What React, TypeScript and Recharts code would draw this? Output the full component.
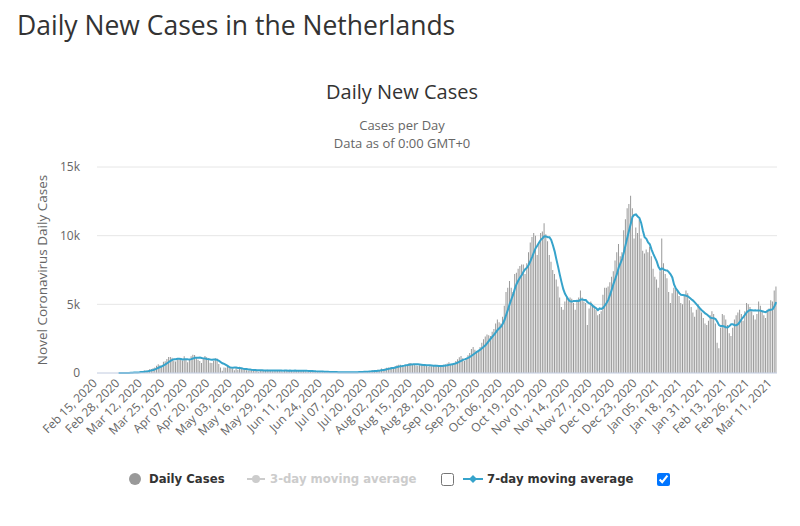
import { ComposedChart, Bar, Line, XAxis, YAxis, CartesianGrid } from "recharts";

const MONTHS = ["Jan", "Feb", "Mar", "Apr", "May", "Jun", "Jul", "Aug", "Sep", "Oct", "Nov", "Dec"];
const START = Date.UTC(2020, 1, 15);

// daily new cases, one array per month (Feb 15, 2020 .. Mar 13, 2021)
const FEB_2020 = [null, null, null, null, null, null, null, null, null, null, null, null, 1, 1, 5];
const MAR_2020 = [8, 6, 14, 20, 44, 46, 60, 77, 56, 61, 121, 111, 190, 155, 176, 278, 292, 346, 409, 534, 637, 573, 545, 811, 852, 1019, 1172, 1159, 1104, 884, 845];
const APR_2020 = [1019, 1083, 1026, 904, 1224, 952, 777, 969, 1213, 1335, 1316, 1174, 964, 868, 734, 1061, 1235, 1140, 1066, 750, 729, 887, 1066, 1057, 655, 400, 171, 400, 386, 514];
const MAY_2020 = [475, 445, 335, 199, 387, 232, 455, 319, 246, 221, 196, 162, 199, 246, 221, 236, 193, 99, 188, 189, 183, 199, 235, 190, 141, 127, 184, 214, 176, 221, 163];
const JUN_2020 = [63, 189, 195, 193, 187, 184, 108, 155, 184, 162, 196, 164, 165, 129, 105, 155, 119, 135, 106, 87, 116, 87, 96, 79, 81, 71, 84, 64, 58, 50];
const JUL_2020 = [77, 50, 59, 71, 56, 32, 59, 52, 65, 80, 46, 70, 62, 65, 64, 93, 109, 132, 117, 100, 151, 138, 193, 182, 182, 229, 177, 320, 261, 335, 379];
const AUG_2020 = [395, 404, 418, 393, 499, 559, 596, 602, 539, 576, 584, 624, 728, 731, 653, 617, 538, 536, 572, 612, 606, 584, 546, 451, 547, 486, 517, 597, 568, 434, 444];
const SEP_2020 = [560, 600, 620, 700, 780, 640, 610, 720, 880, 1000, 1150, 1230, 1080, 880, 1100, 1300, 1450, 1750, 1900, 1700, 1550, 1650, 1900, 2200, 2450, 2650, 2800, 2750, 2700, 3000];
const OCT_2020 = [3200, 3600, 3900, 3700, 3600, 4100, 4900, 5900, 6200, 6700, 6200, 5900, 7200, 7300, 7600, 7800, 7900, 7900, 7200, 8000, 8800, 9500, 9900, 10200, 10000, 8600, 9500, 10200, 10300, 10900, 10100];
const NOV_2020 = [9600, 8600, 8100, 7500, 7200, 6800, 6300, 5500, 4800, 4600, 5200, 5600, 5300, 5500, 5400, 5100, 4600, 5300, 5500, 6000, 5500, 5200, 5100, 3500, 4700, 5200, 5000, 4900, 4600, 4200];
const DEC_2020 = [4300, 4500, 5700, 6200, 6200, 6300, 6600, 7000, 7400, 8200, 8800, 9400, 8500, 8800, 10400, 11200, 12000, 12300, 12900, 12000, 9800, 10600, 10200, 11200, 9800, 8900, 8700, 9000, 8800, 9200, 8500];
const JAN_2021 = [7600, 7000, 6800, 6200, 7400, 9800, 8000, 7200, 6900, 5900, 5100, 5800, 6200, 6100, 6000, 5600, 5100, 5000, 5600, 6000, 5800, 5300, 4800, 4400, 4100, 4600, 5000, 4700, 4400, 4000, 3600];
const FEB_2021 = [3500, 3800, 4200, 4500, 4300, 3600, 2200, 1800, 3300, 4300, 4200, 3900, 3500, 2900, 2700, 3300, 3900, 4200, 4400, 4600, 4300, 3800, 4500, 5100, 5000, 4800, 4500, 4200];
const MAR_2021 = [3900, 4300, 5200, 4900, 4500, 4200, 4000, 4600, 4700, 5300, 5200, 6000, 6300];

const DAILY: (number | null)[] = [
  ...FEB_2020, ...MAR_2020, ...APR_2020, ...MAY_2020, ...JUN_2020, ...JUL_2020,
  ...AUG_2020, ...SEP_2020, ...OCT_2020, ...NOV_2020, ...DEC_2020,
  ...JAN_2021, ...FEB_2021, ...MAR_2021,
];

const DATES = DAILY.map((_, i) => {
  const d = new Date(START + i * 86400000);
  return `${MONTHS[d.getUTCMonth()]} ${String(d.getUTCDate()).padStart(2, "0")}, ${d.getUTCFullYear()}`;
});

const TICK_LABELS = [
  "Feb 15, 2020", "Feb 28, 2020", "Mar 12, 2020", "Mar 25, 2020", "Apr 07, 2020",
  "Apr 20, 2020", "May 03, 2020", "May 16, 2020", "May 29, 2020", "Jun 11, 2020",
  "Jun 24, 2020", "Jul 07, 2020", "Jul 20, 2020", "Aug 02, 2020", "Aug 15, 2020",
  "Aug 28, 2020", "Sep 10, 2020", "Sep 23, 2020", "Oct 06, 2020", "Oct 19, 2020",
  "Nov 01, 2020", "Nov 14, 2020", "Nov 27, 2020", "Dec 10, 2020", "Dec 23, 2020",
  "Jan 05, 2021", "Jan 18, 2021", "Jan 31, 2021", "Feb 13, 2021", "Feb 26, 2021",
  "Mar 11, 2021",
];
const Y_TICKS = [0, 5000, 10000, 15000];

// 7-day moving average of the daily series
const rows = DAILY.map((v, i) => {
  let ma: number | null = null;
  if (v !== null) {
    let sum = 0;
    for (let k = Math.max(0, i - 6); k <= i; k++) sum += DAILY[k] ?? 0;
    ma = Math.round(sum / 7);
  }
  return { date: DATES[i], cases: v, ma7: ma };
});

const FONT = "'Open Sans', sans-serif";
const LEGEND_FONT = "'DejaVu Sans', sans-serif";
const BLUE = "#36a3cb";

function DateTick({ x, y, payload }: any) {
  return (
    <text
      x={x}
      y={y}
      textAnchor="end"
      transform={`rotate(-45 ${x} ${y})`}
      fill="#666"
      fontSize={12}
      fontFamily={FONT}
    >
      {payload.value}
    </text>
  );
}

const legendText = (color: string): React.CSSProperties => ({
  position: "absolute",
  top: 471,
  fontFamily: LEGEND_FONT,
  fontWeight: "bold",
  fontSize: 11.7,
  lineHeight: "16px",
  color,
  whiteSpace: "nowrap",
});

const subtitle: React.CSSProperties = {
  position: "absolute",
  left: 0,
  width: 804,
  textAlign: "center",
  fontSize: 13,
  color: "#666",
  lineHeight: "15px",
};

export default function App() {
  return (
    <div style={{ position: "absolute", left: 0, top: 0, width: 800, height: 526, background: "#fff", fontFamily: FONT }}>
      <div style={{ position: "absolute", left: 17, top: 8, fontSize: 26.5, color: "#333", lineHeight: "34px", whiteSpace: "nowrap" }}>
        Daily New Cases in the Netherlands
      </div>
      <div style={{ position: "absolute", left: 0, width: 804, top: 79, textAlign: "center", fontSize: 20, color: "#333", lineHeight: "26px" }}>
        Daily New Cases
      </div>
      <div style={{ ...subtitle, top: 118 }}>Cases per Day</div>
      <div style={{ ...subtitle, top: 136 }}>Data as of 0:00 GMT+0</div>
      <div
        style={{
          position: "absolute",
          left: 42,
          top: 270,
          transform: "translate(-50%, -50%) rotate(-90deg)",
          fontSize: 13.5,
          color: "#666",
          whiteSpace: "nowrap",
        }}
      >
        Novel Coronavirus Daily Cases
      </div>

      <ComposedChart
        width={800}
        height={526}
        data={rows}
        margin={{ top: 167, right: 23, bottom: 0, left: 0 }}
        barCategoryGap="10%"
        style={{ position: "absolute", left: 0, top: 0 }}
      >
        <CartesianGrid vertical={false} stroke="#e6e6e6" />
        <XAxis
          dataKey="date"
          height={153}
          ticks={TICK_LABELS}
          interval={0}
          tickLine={false}
          tickSize={0}
          tickMargin={11}
          axisLine={{ stroke: "#ccd6eb" }}
          tick={<DateTick />}
        />
        <YAxis
          width={97}
          domain={[0, 15000]}
          ticks={Y_TICKS}
          tickFormatter={(v: number) => (v === 0 ? "0" : `${v / 1000}k`)}
          axisLine={false}
          tickLine={false}
          tickSize={8}
          tickMargin={9}
          tick={{ fill: "#666", fontSize: 12, fontFamily: FONT }}
        />
        <Bar dataKey="cases" fill="#999" isAnimationActive={false} />
        <Line
          type="linear"
          dataKey="ma7"
          stroke={BLUE}
          strokeWidth={2}
          dot={false}
          isAnimationActive={false}
        />
      </ComposedChart>

      {/* legend */}
      <div style={{ position: "absolute", left: 129, top: 473, width: 12, height: 12, borderRadius: "50%", background: "#999" }} />
      <div style={{ ...legendText("#333"), left: 149 }}>Daily Cases</div>

      <svg style={{ position: "absolute", left: 246, top: 473 }} width={20} height={12}>
        <line x1={1} y1={6} x2={19} y2={6} stroke="#ccc" strokeWidth={2} />
        <circle cx={10} cy={6} r={4} fill="#ccc" />
      </svg>
      <div style={{ ...legendText("#ccc"), left: 270 }}>3-day moving average</div>
      <input type="checkbox" readOnly checked={false} style={{ position: "absolute", left: 441, top: 473, margin: 0, width: 13, height: 13 }} />

      <svg style={{ position: "absolute", left: 462, top: 473 }} width={22} height={12}>
        <line x1={1} y1={6} x2={21} y2={6} stroke={BLUE} strokeWidth={2} />
        <path d="M11 2 L15 6 L11 10 L7 6 Z" fill={BLUE} />
      </svg>
      <div style={{ ...legendText("#333"), left: 487 }}>7-day moving average</div>
      <input type="checkbox" readOnly checked style={{ position: "absolute", left: 657, top: 473, margin: 0, width: 13, height: 13 }} />
    </div>
  );
}
